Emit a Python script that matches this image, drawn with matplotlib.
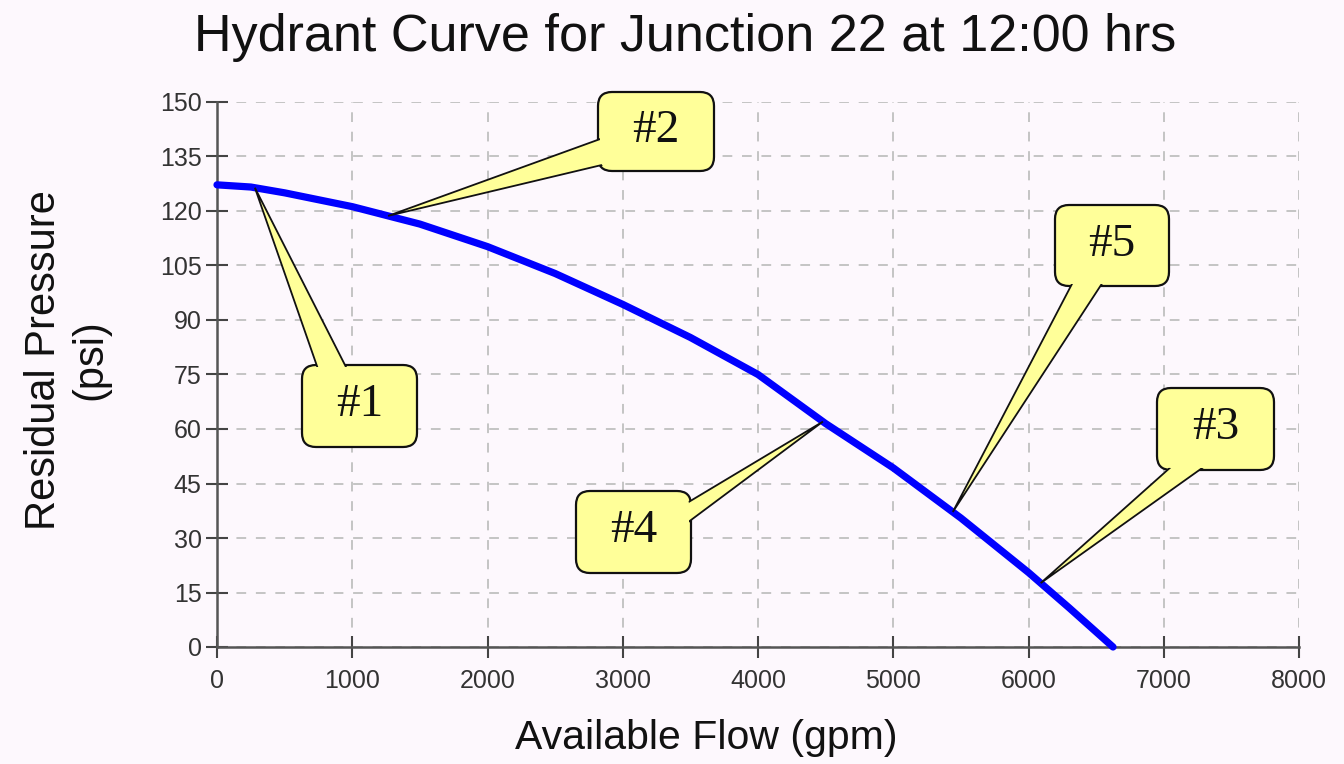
import numpy as np
import matplotlib
matplotlib.use("Agg")
import matplotlib.pyplot as plt
from matplotlib.patches import FancyBboxPatch, Polygon
from matplotlib.transforms import IdentityTransform

# ---- data ----
flow = [0, 250, 500, 1000, 1500, 2000, 2500, 3000, 3500, 4000, 4500, 5000, 5500, 6000, 6300, 6625]
pressure = [127.2, 126.6, 125.0, 121.2, 116.4, 110.2, 102.8, 94.3, 85.2, 75.0, 61.5, 49.3, 35.5, 20.5, 10.8, 0.0]
x_ticks = [0, 1000, 2000, 3000, 4000, 5000, 6000, 7000, 8000]
y_ticks = [0, 15, 30, 45, 60, 75, 90, 105, 120, 135, 150]
callout_labels = ["#1", "#2", "#3", "#4", "#5"]
callout_flows = [280, 1265, 6090, 4480, 5440]

title = "Hydrant Curve for Junction 22 at 12:00 hrs"
xlabel = "Available Flow (gpm)"
ylabel = "Residual Pressure\n(psi)"

W, H = 1344, 764
BG = "#FDF8FD"
FILL = "#FFFF99"

fig = plt.figure(figsize=(W / 100, H / 100), dpi=100, facecolor=BG)
L, R, T, B = 217, 1299, 102, 647
ax = fig.add_axes([L / W, (H - B) / H, (R - L) / W, (B - T) / H])
ax.set_facecolor(BG)

ax.plot(flow, pressure, color="#0000FF", lw=5.2, solid_capstyle="round",
        solid_joinstyle="round", clip_on=False, zorder=4)

ax.set_xlim(0, 8000)
ax.set_ylim(0, 150)
ax.set_xticks(x_ticks)
ax.set_yticks(y_ticks)
ax.set_xticklabels([str(v) for v in x_ticks])
ax.set_yticklabels([str(v) for v in y_ticks])
ax.grid(True, color="#C4C4C4", linestyle=(0, (5, 5)), lw=1.4)
ax.set_axisbelow(True)
for s in ["top", "right"]:
    ax.spines[s].set_visible(False)
for s in ["left", "bottom"]:
    ax.spines[s].set_color("#555555")
    ax.spines[s].set_linewidth(1.8)
ax.tick_params(direction="inout", length=16, width=1.5, color="#444444",
               labelsize=18, labelcolor="#333333")
ax.tick_params(axis="x", pad=8)
ax.tick_params(axis="y", pad=3)
for lab in ax.get_xticklabels() + ax.get_yticklabels():
    lab.set_family("Liberation Sans")

fig.text(685 / W, 1 - 38 / H, title, ha="center", va="center", fontsize=37.5,
         family="Liberation Sans", color="#111111")
fig.text(706 / W, 1 - 738 / H, xlabel, ha="center", va="center", fontsize=29.5,
         family="Liberation Sans", color="#111111")
fig.text(67 / W, 1 - 360 / H, ylabel, ha="center", va="center", fontsize=30,
         family="Liberation Sans", color="#111111", rotation=90, linespacing=1.2)

# ---- callouts (layout in pixel coords, top-left origin) ----
boxes = {
    "#1": (302, 365, 417, 447),
    "#2": (598, 92, 714, 171),
    "#3": (1157, 388, 1274, 470),
    "#4": (576, 491, 691, 573),
    "#5": (1055, 205, 1169, 286),
}
# wedge base: (x1, y1, x2, y2) in pixels
bases = {
    "#1": (318, 369, 347, 369),
    "#2": (603, 138, 606, 164),
    "#3": (1172, 466, 1205, 466),
    "#4": (687, 503, 687, 523),
    "#5": (1073, 282, 1103, 282),
}

fig.canvas.draw()
tr = IdentityTransform()
for lab, fl in zip(callout_labels, callout_flows):
    p = np.interp(fl, flow, pressure)
    tx, ty = ax.transData.transform((fl, p))
    x0, y0, x1, y1 = boxes[lab]
    bx = FancyBboxPatch((x0, H - y1), x1 - x0, y1 - y0,
                        boxstyle="round,pad=0,rounding_size=14",
                        facecolor=FILL, edgecolor="#111111", lw=1.6,
                        transform=tr, zorder=10)
    fig.add_artist(bx)
    b = bases[lab]
    wedge = Polygon([(b[0], H - b[1]), (tx, ty), (b[2], H - b[3])], closed=True,
                    facecolor=FILL, edgecolor="#111111", lw=1.3,
                    transform=tr, zorder=11)
    fig.add_artist(wedge)
    inner = FancyBboxPatch((x0 + 2, H - y1 + 2), x1 - x0 - 4, y1 - y0 - 4,
                           boxstyle="round,pad=0,rounding_size=12",
                           facecolor=FILL, edgecolor="none",
                           transform=tr, zorder=12)
    fig.add_artist(inner)
    fig.text((x0 + x1) / 2 / W, 1 - ((y0 + y1) / 2 - 1) / H, lab, ha="center", va="center",
             fontsize=34, family="Liberation Serif", color="#111111", zorder=13)

fig.savefig("out.png", dpi=100, facecolor=BG)
